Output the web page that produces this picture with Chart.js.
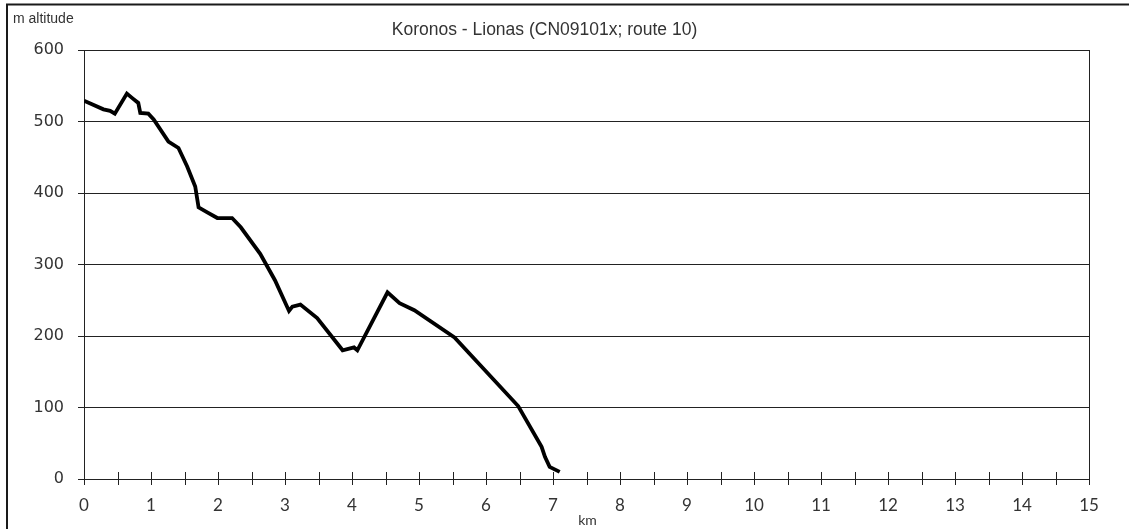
<!DOCTYPE html>
<html>
<head>
<meta charset="utf-8">
<title>Koronos - Lionas</title>
<script src="https://cdn.jsdelivr.net/npm/chart.js@4"></script>
<style>
	html, body { margin: 0; padding: 0; background: #fff; }
	#wrap { position: relative; width: 1129px; height: 529px; }
</style>
</head>
<body>
<div id="wrap"><canvas id="profileChart" width="1129" height="529"></canvas></div>
<script>
// distance along the route (km) and altitude (m)
const distanceKm = [0, 0.29, 0.39, 0.46, 0.64, 0.73, 0.81, 0.84, 0.96, 1.04, 1.26, 1.41, 1.54, 1.66, 1.71, 1.84, 1.99, 2.21, 2.34, 2.63, 2.85, 3.06, 3.11, 3.23, 3.48, 3.86, 4.03, 4.08, 4.53, 4.71, 4.93, 5.53, 6.48, 6.83, 6.88, 6.95, 7.10];
const altitudeM = [529, 517, 515, 511, 539, 532, 526, 512, 511, 503, 472, 463, 437, 409, 380, 373, 365, 365, 352, 315, 278, 235, 241, 244, 225, 180, 184, 180, 261, 246, 236, 198, 102, 45, 31, 17, 10];
const xTicks = [0, 15];
const yTicks = [0, 600];
const chartTitle = 'Koronos - Lionas (CN09101x; route 10)';

const points = distanceKm.map((d, i) => ({ x: d, y: altitudeM[i] }));

// frame, right border and the crossing ticks on the km axis
const framePlugin = {
	id: 'frame',
	afterDraw(chart) {
		const ctx = chart.ctx;
		const area = chart.chartArea;
		const xs = chart.scales.x;
		ctx.save();
		ctx.strokeStyle = '#1a1a1a';
		ctx.lineWidth = 2;
		ctx.beginPath();
		ctx.moveTo(6, 4.5);
		ctx.lineTo(chart.width, 4.5);
		ctx.moveTo(7, 4);
		ctx.lineTo(7, chart.height);
		ctx.stroke();

		ctx.strokeStyle = '#222';
		ctx.lineWidth = 1;
		ctx.beginPath();
		ctx.moveTo(area.right + 0.5, area.top);
		ctx.lineTo(area.right + 0.5, area.bottom);
		for (let v = xTicks[0]; v <= xTicks[1]; v += 0.5) {
			const px = Math.round(xs.getPixelForValue(v)) + 0.5;
			ctx.moveTo(px, area.bottom - 7);
			ctx.lineTo(px, area.bottom + 6);
		}
		ctx.stroke();

		ctx.fillStyle = '#333';
		ctx.font = '14px "Liberation Sans", Arial, sans-serif';
		ctx.textAlign = 'left';
		ctx.textBaseline = 'alphabetic';
		ctx.fillText('m altitude', 13, 23);
		ctx.font = '14px Lato, sans-serif';
		ctx.textAlign = 'center';
		ctx.fillText('km', (area.left + area.right) / 2 + 1, 525);
		ctx.restore();
	}
};

(() => {
	new Chart(document.getElementById('profileChart'), {
		type: 'line',
		data: {
			datasets: [
				{
					data: points,
					borderColor: '#000',
					borderWidth: 3.8,
					pointRadius: 0,
					tension: 0,
					fill: false,
				},
			],
		},
		options: {
			responsive: false,
			animation: false,
			layout: {
				padding: { left: 0, right: 40, top: 0, bottom: 0 },
			},
			plugins: {
				legend: {
					display: false,
				},
				tooltip: {
					enabled: false,
				},
				title: {
					display: true,
					text: chartTitle,
					color: '#333',
					font: { family: '"Liberation Sans", Arial, sans-serif', size: 17.5, weight: 'normal' },
					padding: { top: 20, bottom: 9 },
				},
			},
			scales: {
				x: {
					type: 'linear',
					min: xTicks[0],
					max: xTicks[1],
					afterFit: (axis) => { axis.height = 50; },
					ticks: {
						stepSize: 1,
						color: '#333',
						font: { family: 'Lato, sans-serif', size: 17 },
						padding: 16,
						maxRotation: 0,
					},
					grid: {
						display: true,
						drawOnChartArea: false,
						drawTicks: false,
					},
					border: { display: true, color: '#222', width: 1 },
				},
				y: {
					min: yTicks[0],
					max: yTicks[1],
					afterFit: (axis) => { axis.width = 84; },
					ticks: {
						stepSize: 100,
						color: '#333',
						font: { family: '"DejaVu Sans", sans-serif', size: 16 },
						padding: 14,
					},
					grid: {
						color: '#222',
						lineWidth: 1,
						tickLength: 6,
						tickColor: '#222',
					},
					border: { display: true, color: '#222', width: 1 },
				},
			},
		},
		plugins: [framePlugin],
	});
})();
</script>
</body>
</html>
